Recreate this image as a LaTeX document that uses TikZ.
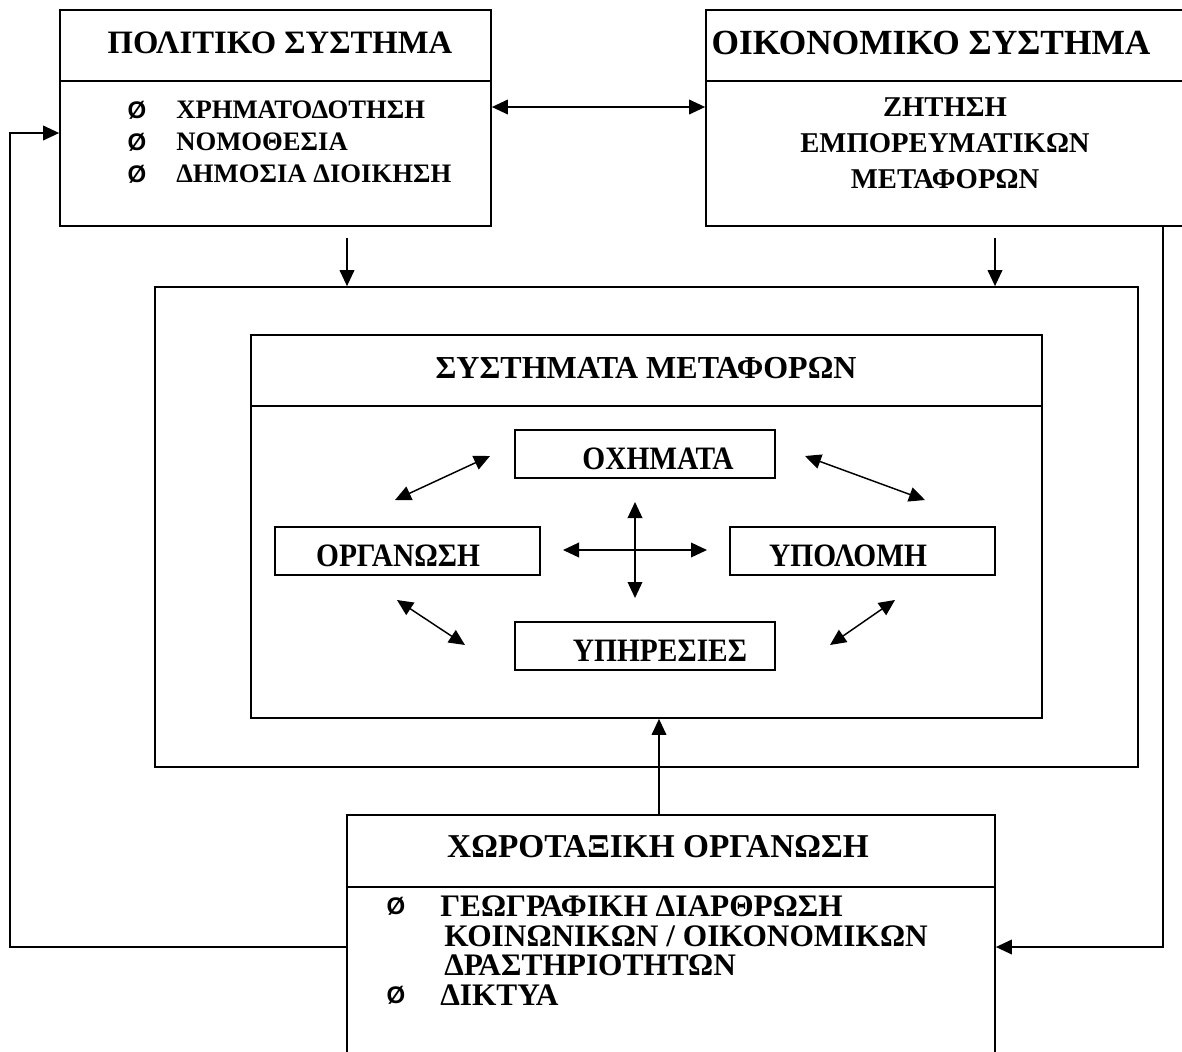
\documentclass[tikz,border=0pt]{standalone}
\usepackage{fontspec}
\setmainfont{Liberation Serif}
\newfontfamily\bulletfont{Liberation Sans}
\usetikzlibrary{arrows.meta,fit}

\begin{document}
\begin{tikzpicture}[x=0.75pt,y=-0.75pt,
  box/.style={draw, line width=1.3pt, inner sep=0pt},
  conn/.style={line width=1.1pt},
  tip/.style={conn, -{Triangle[length=12pt,width=11pt]}},
  dbl/.style={conn, {Triangle[length=12pt,width=11pt]}-{Triangle[length=12pt,width=11pt]}},
  divider/.style={line width=1.3pt},
  title/.style={font=\bfseries\fontsize{24.5}{28}\selectfont, inner sep=0pt},
  item/.style={font=\bfseries\fontsize{20}{24}\selectfont, anchor=west, inner sep=0pt},
  bigitem/.style={font=\bfseries\fontsize{23.5}{26}\selectfont, anchor=west, inner sep=0pt},
  ctext/.style={font=\bfseries\fontsize{21.5}{20}\selectfont, align=center, inner sep=0pt},
  bul/.style={font=\bulletfont\bfseries\fontsize{18}{20}\selectfont, inner sep=0pt},
  unit/.style={font=\bfseries\fontsize{24.5}{26}\selectfont, inner sep=0pt, anchor=base}]

\useasboundingbox (0,0) rectangle (1182,1051);
\clip (0,0) rectangle (1182,1051);

% political system
\node[box, fit={(60,10) (491,226)}] (pol) {};
\draw[divider] (60,81) -- (491,81);
\node[title] (poltitle) at (280,43) {ΠΟΛΙΤΙΚΟ ΣΥΣΤΗΜΑ};
\node[bul] (pb1) at (137,110) {Ø};
\node[bul] (pb2) at (137,142) {Ø};
\node[bul] (pb3) at (137,174) {Ø};
\node[item] (pi1) at (176,110) {ΧΡΗΜΑΤΟΔΟΤΗΣΗ};
\node[item] (pi2) at (176,142) {ΝΟΜΟΘΕΣΙΑ};
\node[item] (pi3) at (176,174) {ΔΗΜΟΣΙΑ ΔΙΟΙΚΗΣΗ};

% economic system
\node[box, fit={(706,10) (1186,226)}] (oik) {};
\draw[divider] (706,81) -- (1186,81);
\node[title, font=\bfseries\fontsize{26.5}{30}\selectfont] (oiktitle) at (931,43) {ΟΙΚΟΝΟΜΙΚΟ ΣΥΣΤΗΜΑ};
\node[ctext] (oiktext) at (945,143) {ΖΗΤΗΣΗ\\[7pt] ΕΜΠΟΡΕΥΜΑΤΙΚΩΝ\\[7pt] ΜΕΤΑΦΟΡΩΝ};

% transport systems
\node[box, fit={(155,287) (1138,767)}] (outer) {};
\node[box, fit={(251,335) (1042,718)}] (sys) {};
\draw[divider] (251,406) -- (1042,406);
\node[title, font=\bfseries\fontsize{24}{28}\selectfont] (systitle) at (646,368) {ΣΥΣΤΗΜΑΤΑ ΜΕΤΑΦΟΡΩΝ};

% the four components
\node[box, fit={(515,430) (775,478)}] (och) {};
\node[box, fit={(275,527) (540,575)}] (org) {};
\node[box, fit={(730,527) (995,575)}] (ypo) {};
\node[box, fit={(515,622) (775,670)}] (yph) {};
\node[unit] (ochtext) at (658,469) {\scalebox{0.9}[1]{ΟΧΗΜΑΤΑ}};
\node[unit] (orgtext) at (398,566) {\scalebox{0.9}[1]{ΟΡΓΑΝΩΣΗ}};
\node[unit] (ypotext) at (848,566) {\scalebox{0.9}[1]{ΥΠΟΛΟΜΗ}};
\node[unit] (yphtext) at (660,661) {\scalebox{0.9}[1]{ΥΠΗΡΕΣΙΕΣ}};

% interactions between the four components
\coordinate (tl1) at (395,500); \coordinate (tl2) at (490,456);
\coordinate (tr1) at (805,456); \coordinate (tr2) at (925,500);
\coordinate (bl1) at (397,600); \coordinate (bl2) at (465,645);
\coordinate (br1) at (830,645); \coordinate (br2) at (895,600);
\coordinate (hx1) at (563,550); \coordinate (hx2) at (707,550);
\coordinate (vx1) at (635,502); \coordinate (vx2) at (635,598);
\draw[dbl] (tl1) -- (tl2);
\draw[dbl] (tr1) -- (tr2);
\draw[dbl] (bl1) -- (bl2);
\draw[dbl] (br1) -- (br2);
\draw[dbl] (hx1) -- (hx2);
\draw[dbl] (vx1) -- (vx2);

% spatial organisation
\node[box, fit={(347,815) (995,1080)}] (xor) {};
\draw[divider] (347,887) -- (995,887);
\node[title, font=\bfseries\fontsize{25}{28}\selectfont] (xortitle) at (658,847) {ΧΩΡΟΤΑΞΙΚΗ ΟΡΓΑΝΩΣΗ};
\node[bul] (xb1) at (396,906) {Ø};
\node[bul] (xb2) at (396,995) {Ø};
\node[bigitem] (xi1) at (440,906) {ΓΕΩΓΡΑΦΙΚΗ ΔΙΑΡΘΡΩΣΗ};
\node[bigitem] (xi2) at (444,936) {ΚΟΙΝΩΝΙΚΩΝ / ΟΙΚΟΝΟΜΙΚΩΝ};
\node[bigitem] (xi3) at (444,965) {ΔΡΑΣΤΗΡΙΟΤΗΤΩΝ};
\node[bigitem] (xi4) at (440,995) {ΔΙΚΤΥΑ};

% links between the systems
\coordinate (m107) at (0,107);
\draw[dbl] (pol.east |- m107) -- (oik.west |- m107);
\coordinate (d1) at (347,238);
\coordinate (d2) at (995,238);
\draw[tip] (d1) -- (outer.north -| d1);
\draw[tip] (d2) -- (outer.north -| d2);
\coordinate (up) at (659,0);
\draw[tip] (xor.north -| up) -- (sys.south -| up);
\coordinate (lc1) at (10,947);
\coordinate (lc2) at (10,133);
\draw[tip] (xor.west |- lc1) -- (lc1) -- (lc2) -- (pol.west |- lc2);
\coordinate (rc) at (1163,947);
\draw[tip] (oik.south -| rc) -- (rc) -- (xor.east |- rc);
\end{tikzpicture}
\end{document}
